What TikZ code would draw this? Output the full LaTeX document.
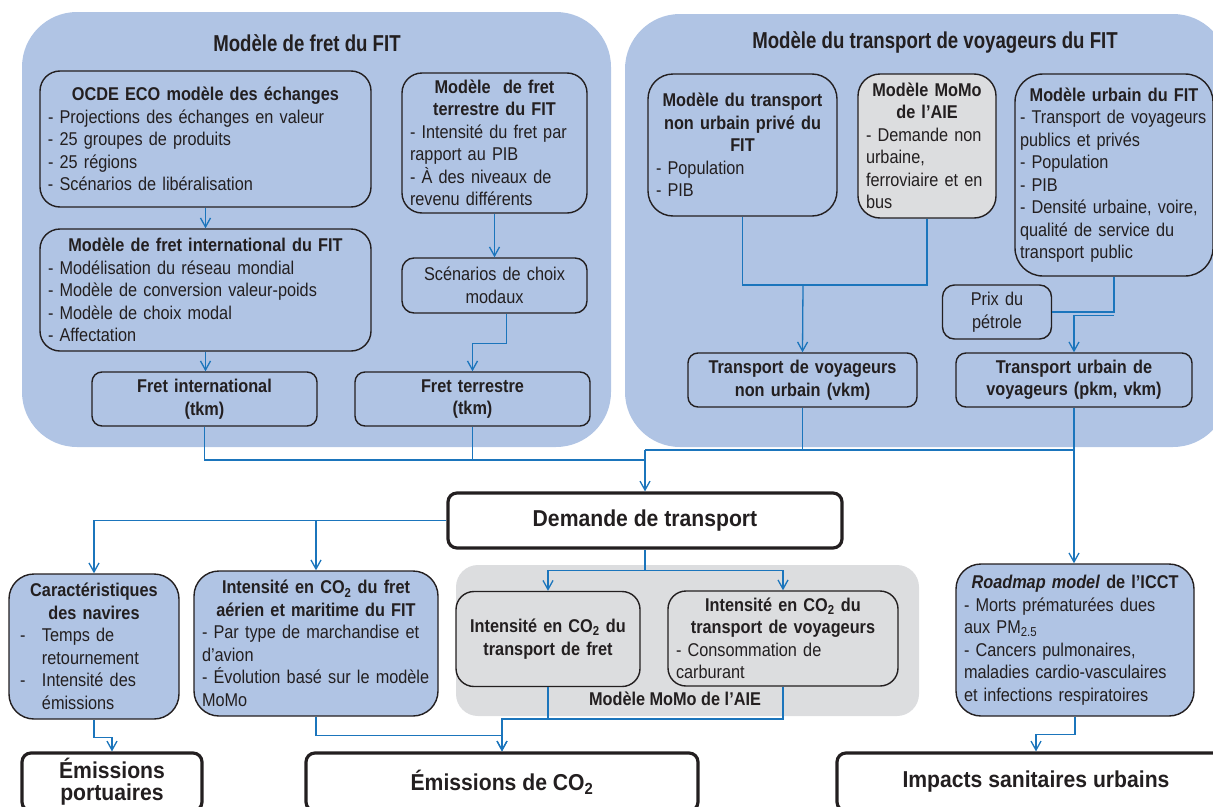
\documentclass[tikz,border=0pt]{standalone}
\usepackage{fontspec}
\setmainfont{Liberation Sans}[FakeStretch=0.88]
\newfontfamily\titlefont{Liberation Sans}[FakeStretch=0.81]
\newfontfamily\bigfont{Liberation Sans}[FakeStretch=0.92]
\usetikzlibrary{arrows.meta}
\definecolor{fitblue}{RGB}{176,196,228}
\definecolor{momogray}{RGB}{220,221,223}
\definecolor{linkblue}{RGB}{27,117,188}
\definecolor{edge}{RGB}{35,31,32}
\newcommand{\bodysize}{\fontsize{18.5}{22.5}\selectfont}
\newcommand{\hd}[1]{{\centering\bfseries #1\par}}
\tikzstyle{mbox}=[draw=edge,line width=1.4pt,rounded corners=20pt,
                  inner xsep=8pt,inner ysep=2pt,align=left,font=\bodysize]
\tikzstyle{sbox}=[mbox,rounded corners=10pt,align=center,
                  font=\bodysize\bfseries]
\tikzstyle{bigbox}=[draw=edge,line width=3.2pt,rounded corners=9pt,fill=white,
                    align=center,font=\bigfont\bfseries\fontsize{23}{22}\selectfont]
\tikzstyle{ttl}=[font=\titlefont\bfseries\fontsize{23}{27}\selectfont]
\tikzstyle{link}=[draw=linkblue,line width=1.3pt]
\tikzstyle{arr}=[link,-{Straight Barb[length=9pt,width=10pt]}]

\begin{document}
\begin{tikzpicture}[x=1pt,y=-1pt,text=edge]
  \useasboundingbox (0,0) rectangle (1213,806);
  \clip (0,0) rectangle (1213,806);
  % background groups
  \fill[fitblue,rounded corners=55pt] (22,12) rectangle (611,447);
  \fill[fitblue,rounded corners=55pt] (625,14) rectangle (1228,447);
  \fill[momogray,rounded corners=22pt] (456,565) rectangle (919,716);
  \node[ttl] (frettitle) at (307,43) {Modèle de fret du FIT};
  \node[ttl] (voytitle) at (935,43) {Modèle du transport de voyageurs du FIT};
  \node[font=\bodysize\bfseries] (momolabel) at (675,699) {Modèle MoMo de l’AIE};

  % freight model
  \node[mbox,fill=fitblue,text width=315pt,minimum height=136pt] (ocde) at (205.5,139)
    {\hd{OCDE ECO modèle des échanges}- Projections des échanges en valeur\\
     - 25 groupes de produits\\- 25 régions\\- Scénarios de libéralisation};
  \node[mbox,fill=fitblue,text width=169pt,minimum height=140pt] (terre) at (494.5,143)
    {\hd{Modèle\ \ de fret\\terrestre du FIT}- Intensité du fret par\\rapport au PIB\\
     - À des niveaux de\\revenu différents};
  \node[mbox,fill=fitblue,text width=315pt,minimum height=122pt] (intl) at (205.5,290)
    {\hd{Modèle de fret international du FIT}- Modélisation du réseau mondial\\
     - Modèle de conversion valeur-poids\\- Modèle de choix modal\\- Affectation};
  \node[mbox,fill=fitblue,rounded corners=12pt,align=center,text width=169pt,
        minimum height=55pt] (scen) at (494.5,285.5) {Scénarios de choix\\modaux};
  \node[sbox,fill=fitblue,text width=209pt,minimum height=54pt] (fint) at (204.5,399)
    {Fret international\\(tkm)};
  \node[sbox,fill=fitblue,text width=219pt,minimum height=54pt] (fter) at (472.5,399)
    {Fret terrestre\\(tkm)};

  % passenger model
  \node[mbox,fill=fitblue,rounded corners=25pt,text width=173pt,minimum height=142pt]
    (nurb) at (742.5,145)
    {\hd{Modèle du transport\\non urbain privé du\\FIT}- Population\\- PIB};
  \node[mbox,fill=momogray,rounded corners=22pt,text width=122pt,minimum height=144pt]
    (momo) at (927,146)
    {\hd{Modèle MoMo\\de l’AIE}- Demande non\\urbaine,\\ferroviaire et en\\bus};
  \node[mbox,fill=fitblue,rounded corners=28pt,inner xsep=5pt,text width=188pt,
        minimum height=202pt] (urb) at (1114,175)
    {\hd{Modèle urbain du FIT}- Transport de voyageurs\\publics et privés\\
     - Population\\- PIB\\- Densité urbaine, voire,\\qualité de service du\\
     transport public};
  \node[mbox,fill=fitblue,rounded corners=12pt,align=center,text width=93pt,
        minimum height=54pt] (prix) at (997,312) {Prix du\\pétrole};
  \node[sbox,fill=fitblue,text width=213pt,minimum height=54pt] (tnu) at (802.5,380)
    {Transport de voyageurs\\non urbain (vkm)};
  \node[sbox,fill=fitblue,text width=220pt,minimum height=54pt] (tu) at (1074,380)
    {Transport urbain de\\voyageurs (pkm, vkm)};

  % demand and intensities
  \node[bigbox,minimum width=394pt,minimum height=55pt] (dem) at (645,520.5)
    {Demande de transport};
  \node[mbox,fill=fitblue,rounded corners=25pt,text width=154pt,minimum height=145pt]
    (car) at (94,646.5)
    {\hd{Caractéristiques\\des navires}\hspace*{3pt}\makebox[22pt][l]{-}Temps de\\
     \hspace*{25pt}retournement\\\hspace*{3pt}\makebox[22pt][l]{-}Intensité des\\
     \hspace*{25pt}émissions};
  \node[mbox,fill=fitblue,rounded corners=25pt,text width=228pt,minimum height=145pt]
    (aer) at (316,643.5)
    {\hd{Intensité en CO\textsubscript{2} du fret\\aérien et maritime du FIT}%
     - Par type de marchandise et\\d’avion\\- Évolution basé sur le modèle\\MoMo};
  \node[sbox,fill=momogray,rounded corners=18pt,text width=168pt,minimum height=95pt]
    (co2f) at (548,639) {Intensité en CO\textsubscript{2} du\\transport de fret};
  \node[mbox,fill=momogray,rounded corners=18pt,text width=214pt,minimum height=95pt]
    (co2v) at (783,638.5)
    {\hd{Intensité en CO\textsubscript{2} du\\transport de voyageurs}%
     - Consommation de\\carburant};
  \node[mbox,fill=fitblue,rounded corners=25pt,text width=222pt,minimum height=152pt]
    (road) at (1075,640)
    {\hd{\textit{Roadmap model} de l’ICCT}- Morts prématurées dues\\
     aux PM\textsubscript{2.5}\\- Cancers pulmonaires,\\maladies cardio-vasculaires\\
     et infections respiratoires};

  % outputs
  \node[bigbox,minimum width=180pt,minimum height=58pt] (eport) at (112,782)
    {Émissions\\portuaires};
  \node[bigbox,minimum width=392pt,minimum height=58pt] (eco2) at (502,782)
    {Émissions de CO\textsubscript{2}};
  \node[bigbox,minimum width=398pt,minimum height=58pt] (imp) at (1036,782)
    {Impacts sanitaires urbains};

  % links
  \draw[arr] (ocde) -- (intl);
  \draw[arr] (terre) -- (scen);
  \draw[arr] ([xshift=12pt]scen.south) -- ++(0,30) -| (fter.north);
  \draw[arr] (intl.south) -- (intl.south |- fint.north);
  \coordinate (jl) at (645,460);
  \coordinate (jr) at (645,450);
  \coordinate (jn) at (803,285);
  \coordinate (jb) at (502,719);
  \draw[link] (fint.south) |- (jl);
  \draw[link] (fter.south) -- (fter.south |- jl);
  \draw[link] (tnu.south) -- (tnu.south |- jr);
  \draw[link] (tu.south |- jr) -- (jr);
  \draw[arr] (jr) -- (dem.north);
  \draw[arr] (tu.south) -- (tu.south |- road.north);
  \draw[link] (nurb.south) |- (jn);
  \draw[link] (momo.south) |- (jn);
  \draw[arr] (jn) -- (tnu.north);
  \draw[link] (urb.south) |- (prix.east);
  \draw[arr] (urb.south) ++(0,39) -| (tu.north);
  \draw[arr] (dem.west) -| (car.north);
  \draw[arr] (dem.west -| aer.north) -- (aer.north);
  \draw[link] (dem.south) -- ++(0,21) coordinate (jd);
  \draw[arr] (jd) -| (co2f.north);
  \draw[arr] (jd) -| (co2v.north);
  \draw[arr] (car.south) -- ++(0,18) -| (eport.north);
  \draw[arr] (aer.south) -- ++(0,19) -| (eco2.north);
  \draw[link] (co2f.south) |- (jb);
  \draw[arr] (co2v.south) |- (jb) -- (eco2.north);
  \draw[arr] (road.south) -- ++(0,18) -| (imp.north);
\end{tikzpicture}
\end{document}
